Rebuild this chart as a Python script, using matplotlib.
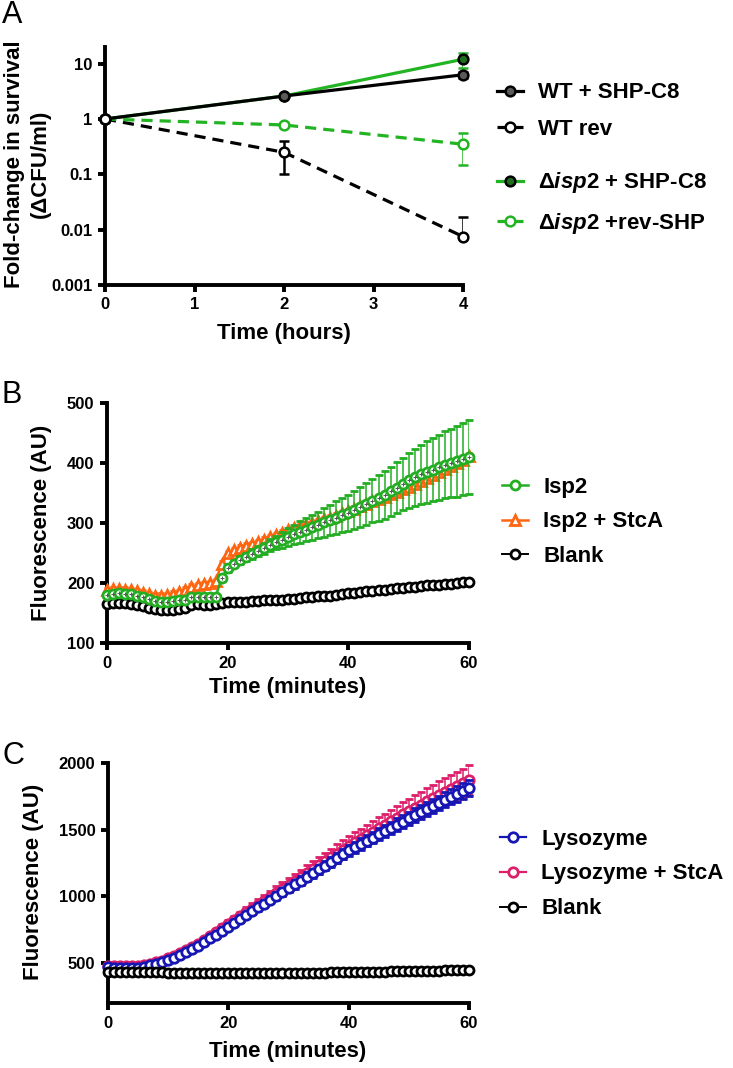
import numpy as np
import matplotlib
matplotlib.use("Agg")
import matplotlib.pyplot as plt
from matplotlib.ticker import FixedLocator, FixedFormatter, NullLocator

plt.rcParams['font.family'] = ['Liberation Sans', 'DejaVu Sans']
plt.rcParams['font.weight'] = 'bold'
plt.rcParams['mathtext.fontset'] = 'custom'
plt.rcParams['mathtext.rm'] = 'Liberation Sans:bold'
plt.rcParams['mathtext.it'] = 'Liberation Sans:italic:bold'

# ---- panel A data: fold-change in survival ----
hours = [0, 2, 4]
wt_shp = [1.0, 2.6, 6.3]
wt_shp_err = [0.0, 0.2, 0.8]
wt_rev = [1.0, 0.25, 0.0075]
wt_rev_err_lo = [0.0, 0.15, 0.0]
wt_rev_err_hi = [0.0, 0.15, 0.0095]
isp2_shp = [1.0, 2.6, 12.0]
isp2_shp_err = [0.0, 0.2, 3.5]
isp2_rev = [1.0, 0.78, 0.35]
isp2_rev_err = [0.0, 0.05, 0.2]

# ---- panel B data: fluorescence, Isp2 ----
minutes = list(range(61))
isp2 = [180, 182, 183, 182, 181, 179, 177, 173, 170, 169, 169, 170, 171, 172, 177, 177,
        176, 176, 177, 208, 225, 232, 238, 243, 248, 253, 258, 263, 268, 272, 277, 281,
        285, 289, 293, 297, 301, 305, 309, 313, 317, 322, 327, 332, 337, 342, 347, 353,
        359, 365, 371, 376, 381, 385, 389, 393, 397, 400, 403, 406, 410]
isp2_err = [3, 3, 3, 3, 3, 3, 3, 3, 3, 3, 3, 3, 3, 3, 3, 3, 3, 3, 3, 5, 6, 6, 7, 7, 8, 8,
            9, 10, 11, 13, 15, 16, 18, 19, 21, 22, 24, 25, 27, 28, 30, 32, 33, 35, 36, 38,
            40, 41, 43, 44, 46, 48, 49, 51, 52, 54, 56, 57, 59, 60, 62]
isp2_stca = [188, 190, 190, 189, 188, 186, 184, 181, 179, 179, 180, 182, 185, 189, 194, 196,
             198, 200, 203, 232, 250, 255, 259, 262, 265, 268, 272, 276, 280, 284, 288, 291,
             294, 297, 300, 303, 306, 309, 312, 316, 320, 324, 328, 332, 336, 340, 344, 348,
             352, 356, 360, 365, 370, 375, 380, 385, 390, 395, 400, 405, 412]
blank_b = [165, 167, 167, 166, 165, 163, 161, 158, 156, 155, 155, 155, 156, 158, 164, 165,
           164, 164, 165, 167, 168, 168, 169, 169, 170, 170, 171, 171, 172, 172, 173, 174,
           175, 176, 177, 178, 178, 179, 180, 181, 183, 184, 185, 186, 187, 188, 189, 190,
           191, 192, 193, 194, 195, 196, 196, 197, 198, 199, 200, 201, 202]

# ---- panel C data: fluorescence, lysozyme ----
lyso = [468, 466, 465, 464, 464, 466, 472, 482, 494, 507, 522, 540, 560, 582, 604, 627,
        655, 684, 713, 742, 772, 801, 830, 859, 888, 917, 946, 975, 1003, 1031, 1060, 1089,
        1117, 1146, 1174, 1203, 1231, 1260, 1288, 1317, 1345, 1369, 1393, 1417, 1441, 1465,
        1489, 1513, 1537, 1561, 1585, 1608, 1631, 1654, 1677, 1700, 1723, 1746, 1769, 1792, 1815]
lyso_err = [8, 8, 8, 8, 8, 8, 8, 8, 8, 9, 10, 11, 12, 13, 14, 15, 16, 17, 18, 19, 20, 21,
            22, 23, 24, 25, 26, 27, 28, 29, 30, 31, 32, 33, 34, 35, 36, 37, 38, 39, 40, 41,
            42, 43, 44, 45, 46, 47, 48, 49, 50, 51, 52, 53, 54, 55, 56, 57, 58, 59, 60]
lyso_stca = [478, 476, 475, 474, 474, 476, 482, 492, 504, 518, 534, 552, 573, 596, 619, 643,
             671, 700, 730, 760, 790, 820, 849, 879, 908, 938, 967, 997, 1026, 1055, 1085,
             1115, 1144, 1174, 1203, 1233, 1262, 1292, 1321, 1351, 1380, 1406, 1432, 1458,
             1484, 1510, 1536, 1562, 1588, 1614, 1640, 1664, 1688, 1712, 1736, 1760, 1782,
             1804, 1826, 1848, 1870]
lyso_stca_err = [10, 10, 10, 10, 10, 10, 10, 10, 10, 11, 12, 14, 16, 18, 20, 22, 24, 26, 28,
                 30, 32, 34, 36, 38, 40, 42, 44, 46, 48, 50, 52, 54, 56, 58, 60, 62, 64, 66,
                 68, 70, 72, 74, 76, 78, 80, 82, 84, 86, 88, 90, 92, 94, 96, 98, 100, 102,
                 104, 106, 108, 110, 112]
blank_c = [435, 436, 436, 435, 434, 433, 432, 431, 430, 429, 428, 428, 427, 427, 426, 426,
           425, 425, 425, 424, 424, 424, 424, 424, 424, 424, 424, 424, 424, 425, 425, 425,
           426, 426, 427, 427, 428, 429, 429, 430, 431, 432, 432, 433, 434, 435, 436, 437,
           438, 438, 439, 440, 441, 442, 442, 443, 444, 445, 445, 446, 447]

GREEN_A = '#22b422'
GREEN_B = '#22ad22'
ORANGE = '#ff6612'
BLUE = '#1616b4'
PINK = '#dc1f6a'

W, H = 733, 1068
fig = plt.figure(figsize=(W / 100, H / 100), dpi=100)


def px_axes(left, top, right, bottom):
    return fig.add_axes([left / W, 1 - bottom / H, (right - left) / W, (bottom - top) / H])


def style(ax):
    for s in ['top', 'right']:
        ax.spines[s].set_visible(False)
    for s in ['left', 'bottom']:
        ax.spines[s].set_linewidth(2.8)
        ax.spines[s].set_capstyle('projecting')
    ax.tick_params(direction='out', length=5, width=2.8, labelsize=12, pad=4)
    for lab in ax.get_xticklabels() + ax.get_yticklabels():
        lab.set_fontweight('bold')


def add_legend(handles, labels, x, y, spacing):
    fig.legend(handles, labels, loc='center left', bbox_to_anchor=(x / W, 1 - y / H),
               frameon=False, fontsize=16, handlelength=1.15, handletextpad=0.7,
               labelspacing=spacing, borderpad=0, borderaxespad=0)


# ---------------- A ----------------
axA = px_axes(105, 47, 463, 285)
axA.set_yscale('log')
e_wtrev = axA.errorbar(hours, wt_rev, yerr=[wt_rev_err_lo, wt_rev_err_hi], color='black',
                       ls=(0, (3.5, 2.2)), lw=2.3, marker='o', ms=7, mfc='white', mec='black',
                       mew=1.8, capsize=3.5, elinewidth=1.8, capthick=1.8, zorder=3)
e_isrev = axA.errorbar(hours, isp2_rev, yerr=isp2_rev_err, color=GREEN_A, ls=(0, (3.5, 2.2)),
                       lw=2.3, marker='o', ms=7, mfc='white', mec=GREEN_A, mew=1.8, capsize=3.5,
                       elinewidth=1.8, capthick=1.8, zorder=3)
e_isshp = axA.errorbar(hours, isp2_shp, yerr=isp2_shp_err, color=GREEN_A, lw=2.3, marker='o',
                       ms=7, mfc='#1d6e1d', mec='black', mew=1.8, capsize=3.5, elinewidth=1.8,
                       capthick=1.8, ecolor=GREEN_A, zorder=4)
e_wtshp = axA.errorbar(hours, wt_shp, yerr=wt_shp_err, color='black', lw=2.3, marker='o', ms=7,
                       mfc='#5a5a5a', mec='black', mew=1.8, capsize=3.5, elinewidth=1.8,
                       capthick=1.8, zorder=5)
# starting point drawn open
axA.plot(hours[:1], wt_rev[:1], marker='o', ms=7, mfc='white', mec='black', mew=1.8, zorder=6,
         ls='none')
axA.set_xlim(0, 4)
axA.set_ylim(0.001, 20)
axA.xaxis.set_major_locator(FixedLocator([0, 1, 2, 3, 4]))
axA.yaxis.set_major_locator(FixedLocator([0.001, 0.01, 0.1, 1, 10]))
axA.yaxis.set_major_formatter(FixedFormatter(['0.001', '0.01', '0.1', '1', '10']))
axA.yaxis.set_minor_locator(NullLocator())
style(axA)
for ln in axA.lines:
    ln.set_clip_on(False)

add_legend([e_wtshp.lines[0], e_wtrev.lines[0]], ['WT + SHP-C8', 'WT rev'], 497, 111, 0.68)
add_legend([e_isshp.lines[0], e_isrev.lines[0]],
           [r'Δ$\it{isp2}$ + SHP-C8', r'Δ$\it{isp2}$ +rev-SHP'], 497, 203, 0.68)

fig.text(27 / W, 1 - 164 / H, 'Fold-change in survival\n(ΔCFU/ml)', rotation=90, ha='center',
         va='center', fontsize=16, fontweight='bold', linespacing=1.3, multialignment='center')
fig.text(284 / W, 1 - 333 / H, 'Time (hours)', ha='center', va='center', fontsize=16,
         fontweight='bold')
fig.text(2 / W, 1 - 15 / H, 'A', ha='left', va='center', fontsize=22, fontweight='normal')

# ---------------- B ----------------
axB = px_axes(107, 403, 469, 643)
e_stca = axB.errorbar(minutes, isp2_stca, yerr=4, color=ORANGE, lw=1.8, marker='^', ms=6.8,
                      mfc='white', mec=ORANGE, mew=2.0, capsize=2.5, elinewidth=1.0, zorder=3)
e_isp2 = axB.errorbar(minutes, isp2, yerr=isp2_err, color=GREEN_B, lw=1.8, marker='o', ms=6.5,
                      mfc='white', mec=GREEN_B, mew=2.0, capsize=3, elinewidth=1.1,
                      capthick=1.1, zorder=4)
axB.plot(minutes, isp2, ls='none', marker='+', ms=2.5, mew=0.7, color='#555555', zorder=5)
l_blank_b, = axB.plot(minutes, blank_b, color='black', lw=1.4, marker='o', ms=6.5, mfc='white',
                      mec='black', mew=2.0, zorder=4)
axB.set_xlim(0, 60)
axB.set_ylim(100, 500)
axB.xaxis.set_major_locator(FixedLocator([0, 20, 40, 60]))
axB.yaxis.set_major_locator(FixedLocator([100, 200, 300, 400, 500]))
style(axB)
for ln in axB.lines:
    ln.set_clip_on(False)
add_legend([e_isp2.lines[0], e_stca.lines[0], l_blank_b], ['Isp2', 'Isp2 + StcA', 'Blank'],
           502, 522, 0.62)
fig.text(42 / W, 1 - 523 / H, 'Fluorescence (AU)', rotation=90, ha='center', va='center',
         fontsize=16, fontweight='bold')
fig.text(288 / W, 1 - 688 / H, 'Time (minutes)', ha='center', va='center', fontsize=16,
         fontweight='bold')
fig.text(2 / W, 1 - 395 / H, 'B', ha='left', va='center', fontsize=22, fontweight='normal')

# ---------------- C ----------------
axC = px_axes(108, 763, 469, 1003)
e_lst = axC.errorbar(minutes, lyso_stca, yerr=lyso_stca_err, color=PINK, lw=1.6, marker='o',
                     ms=6.8, mfc='white', mec=PINK, mew=2.0, capsize=3, elinewidth=1.1,
                     capthick=1.1, zorder=3)
e_ly = axC.errorbar(minutes, lyso, yerr=lyso_err, color=BLUE, lw=1.6, marker='o', ms=6.8,
                    mfc='white', mec=BLUE, mew=2.0, capsize=3, elinewidth=1.1, capthick=1.1,
                    zorder=4)
l_blank_c, = axC.plot(minutes, blank_c, color='black', lw=1.4, marker='o', ms=6.5, mfc='white',
                      mec='black', mew=2.0, zorder=5)
axC.set_xlim(0, 60)
axC.set_ylim(200, 2000)
axC.xaxis.set_major_locator(FixedLocator([0, 20, 40, 60]))
axC.yaxis.set_major_locator(FixedLocator([500, 1000, 1500, 2000]))
style(axC)
for ln in axC.lines:
    ln.set_clip_on(False)
add_legend([e_ly.lines[0], e_lst.lines[0], l_blank_c], ['Lysozyme', 'Lysozyme + StcA', 'Blank'],
           500, 874, 0.62)
fig.text(34 / W, 1 - 882 / H, 'Fluorescence (AU)', rotation=90, ha='center', va='center',
         fontsize=16, fontweight='bold')
fig.text(288 / W, 1 - 1051 / H, 'Time (minutes)', ha='center', va='center', fontsize=16,
         fontweight='bold')
fig.text(2 / W, 1 - 756 / H, 'C', ha='left', va='center', fontsize=22, fontweight='normal')

fig.savefig('out.png', dpi=100)
